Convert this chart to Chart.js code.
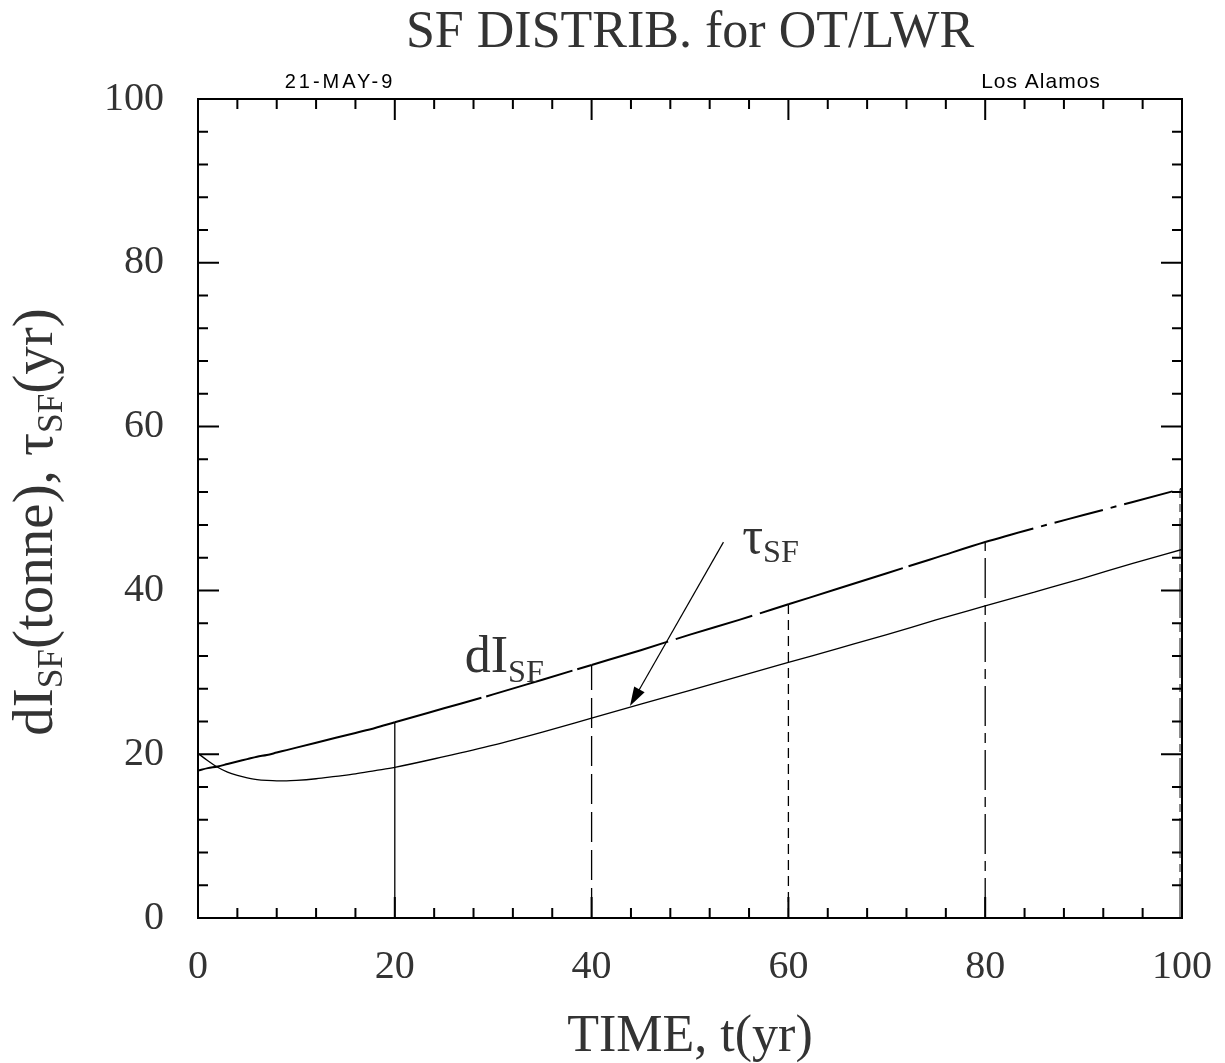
<!DOCTYPE html>
<html>
<head>
<meta charset="utf-8">
<script src="https://cdn.jsdelivr.net/npm/chart.js@4"></script>
<style>
  body { margin: 0; background: #fff; }
  #wrap { width: 1225px; height: 1063px; }
</style>
</head>
<body>
<div id="wrap"><canvas id="myChart" width="1225" height="1063"></canvas></div>
<script>
"use strict";

// values
const years = [0, 1, 2, 3, 4, 5, 6, 7, 8, 9, 10, 12, 14, 16, 18, 20, 25, 30, 35, 40, 45, 50, 55, 60, 65, 70, 75, 80, 85, 90, 95, 100];
const dISF = [18.0, 18.3, 18.5, 18.8, 19.1, 19.4, 19.7, 19.9, 20.2, 20.5, 20.8, 21.4, 22.0, 22.6, 23.2, 23.9, 25.6, 27.3, 29.1, 30.9, 32.7, 34.6, 36.4, 38.3, 40.2, 42.1, 44.0, 45.9, 47.6, 49.2, 50.8, 52.4];
const tauSF = [20.1, 19.2, 18.4, 17.8, 17.4, 17.1, 16.9, 16.8, 16.75, 16.75, 16.8, 17.0, 17.3, 17.6, 18.0, 18.4, 19.7, 21.1, 22.7, 24.4, 26.1, 27.8, 29.5, 31.2, 32.9, 34.6, 36.4, 38.1, 39.8, 41.5, 43.3, 45.0];
const dropYears = [20, 40, 60, 80, 99.8];
const xTickLabels = [0, 20, 40, 60, 80, 100];
const yTickLabels = [0, 20, 40, 60, 80, 100];

const serif = "'Liberation Serif', 'DejaVu Serif', serif";
const textColor = "#333";

// dash style for each 20-year stretch
const stretchDash = [[], [90, 5], [80, 8], [120, 6], [50, 8, 6, 8]];
const dropDash = [[], [30, 8], [10, 6], [40, 7, 10, 7], [40, 6, 8, 6]];
const dropColor = ["#000", "#000", "#000", "#000", "#888"];

function dashFor(x) {
  const i = Math.min(4, Math.floor(x / 20));
  return stretchDash[i];
}

function topOf(x) {
  let best = 0;
  for (let i = 0; i < years.length; i++) {
    if (Math.abs(years[i] - x) < Math.abs(years[best] - x)) best = i;
  }
  return dISF[best];
}

const datasets = [
  {
    label: "dI_SF",
    data: years.map((x, i) => ({ x: x, y: dISF[i] })),
    borderColor: "#000",
    borderWidth: 2,
    pointRadius: 0,
    cubicInterpolationMode: "monotone",
    segment: { borderDash: (ctx) => dashFor(ctx.p0.parsed.x) },
  },
  {
    label: "tau_SF",
    data: years.map((x, i) => ({ x: x, y: tauSF[i] })),
    borderColor: "#000",
    borderWidth: 1.3,
    pointRadius: 0,
    cubicInterpolationMode: "monotone",
  },
];

dropYears.forEach((x, i) => {
  datasets.push({
    label: "drop" + x,
    data: [{ x: x, y: 0 }, { x: x, y: topOf(x) }],
    borderColor: dropColor[i],
    borderWidth: i === 4 ? 2 : 1.3,
    borderDash: dropDash[i],
    pointRadius: 0,
  });
});

// draws text with subscripts, returns width
function richText(ctx, parts, x, y, size) {
  let cx = x;
  for (const p of parts) {
    const fs = p.sub ? size * 0.62 : size;
    ctx.font = fs + "px " + serif;
    ctx.fillText(p.t, cx, p.sub ? y + size * 0.18 : y);
    cx += ctx.measureText(p.t).width;
  }
  return cx - x;
}
function richWidth(ctx, parts, size) {
  let w = 0;
  for (const p of parts) {
    ctx.font = (p.sub ? size * 0.62 : size) + "px " + serif;
    w += ctx.measureText(p.t).width;
  }
  return w;
}

const extras = {
  id: "extras",
  afterDraw(chart) {
    const ctx = chart.ctx;
    const xs = chart.scales.x;
    const ys = chart.scales.y;
    const area = chart.chartArea;
    ctx.save();
    ctx.strokeStyle = "#000";
    ctx.lineWidth = 2;
    ctx.beginPath();
    // inward ticks on all four sides
    for (let v = 0; v <= 100; v += 4) {
      const px = xs.getPixelForValue(v);
      const len = v % 20 === 0 ? 21 : 10;
      ctx.moveTo(px, area.bottom);
      ctx.lineTo(px, area.bottom - len);
      ctx.moveTo(px, area.top);
      ctx.lineTo(px, area.top + len);
      const py = ys.getPixelForValue(v);
      ctx.moveTo(area.left, py);
      ctx.lineTo(area.left + len, py);
      ctx.moveTo(area.right, py);
      ctx.lineTo(area.right - len, py);
    }
    ctx.stroke();

    // header notes
    ctx.fillStyle = "#000";
    ctx.textBaseline = "alphabetic";
    ctx.textAlign = "center";
    ctx.font = "20px 'Liberation Sans', 'DejaVu Sans', sans-serif";
    ctx.letterSpacing = "3px";
    ctx.fillText("21-MAY-9", 340, 88);
    ctx.font = "21px 'Liberation Sans', 'DejaVu Sans', sans-serif";
    ctx.letterSpacing = "1px";
    ctx.fillText("Los Alamos", 1041, 88);
    ctx.letterSpacing = "0px";
    ctx.textAlign = "left";

    // y axis title with subscripts
    ctx.fillStyle = textColor;
    const yParts = [
      { t: "dI" }, { t: "SF", sub: true }, { t: "(tonne), " },
      { t: "τ" }, { t: "SF", sub: true }, { t: "(yr)" },
    ];
    const w = richWidth(ctx, yParts, 57);
    ctx.save();
    ctx.translate(52, 522);
    ctx.rotate(-Math.PI / 2);
    richText(ctx, yParts, -w / 2, 0, 57);
    ctx.restore();

    // curve labels
    richText(ctx, [{ t: "dI" }, { t: "SF", sub: true }], xs.getPixelForValue(27.1), ys.getPixelForValue(30.0), 52);
    richText(ctx, [{ t: "τ" }, { t: "SF", sub: true }], xs.getPixelForValue(55.3), ys.getPixelForValue(44.6), 52);

    // arrow to the tau curve
    const x1 = xs.getPixelForValue(53.4), y1 = ys.getPixelForValue(45.9);
    const x2 = xs.getPixelForValue(43.9), y2 = ys.getPixelForValue(25.9);
    const ang = Math.atan2(y2 - y1, x2 - x1);
    ctx.strokeStyle = "#000";
    ctx.lineWidth = 1.2;
    ctx.beginPath();
    ctx.moveTo(x1, y1);
    ctx.lineTo(x2 - 14 * Math.cos(ang), y2 - 14 * Math.sin(ang));
    ctx.stroke();
    ctx.fillStyle = "#000";
    ctx.beginPath();
    ctx.moveTo(x2, y2);
    ctx.lineTo(x2 - 19 * Math.cos(ang) + 6 * Math.sin(ang), y2 - 19 * Math.sin(ang) - 6 * Math.cos(ang));
    ctx.lineTo(x2 - 19 * Math.cos(ang) - 6 * Math.sin(ang), y2 - 19 * Math.sin(ang) + 6 * Math.cos(ang));
    ctx.closePath();
    ctx.fill();
    ctx.restore();
  },
};

const frame = { display: true, color: "#000", width: 2 };

// keep fixed box sizes; no extra room for overhanging labels
function fixBox(size) {
  return (s) => {
    if (s.isHorizontal()) s.height = size;
    else s.width = size;
    s.paddingLeft = 0;
    s.paddingRight = 0;
    s.paddingTop = 0;
    s.paddingBottom = 0;
  };
}

new Chart("myChart", {
  type: "line",
  data: { datasets: datasets },
  options: {
    responsive: false,
    animation: false,
    events: [],
    layout: { padding: 0 },
    plugins: {
      legend: { display: false },
      tooltip: { enabled: false },
      title: {
        display: true,
        fullSize: false,
        text: "SF DISTRIB. for OT/LWR",
        color: textColor,
        font: { family: serif, size: 52, weight: "normal", lineHeight: 1 },
        padding: { top: 7, bottom: 13 },
      },
    },
    scales: {
      x: {
        type: "linear",
        position: "bottom",
        min: 0,
        max: 100,
        border: frame,
        grid: { display: false },
        ticks: {
          stepSize: 20,
          autoSkip: false,
          maxRotation: 0,
          padding: 17,
          color: textColor,
          font: { family: serif, size: 40 },
          callback: (v) => (xTickLabels.includes(v) ? v : ""),
        },
        title: {
          display: true,
          text: "TIME, t(yr)",
          color: textColor,
          font: { family: serif, size: 52, lineHeight: 1 },
          padding: { top: 0, bottom: 0 },
        },
        afterFit: fixBox(145),
      },
      x2: {
        type: "linear",
        position: "top",
        min: 0,
        max: 100,
        border: frame,
        grid: { display: false },
        ticks: { display: false },
        afterFit: fixBox(27),
      },
      y: {
        type: "linear",
        position: "left",
        min: 0,
        max: 100,
        border: frame,
        grid: { display: false },
        ticks: {
          stepSize: 20,
          autoSkip: false,
          padding: 26,
          color: textColor,
          font: { family: serif, size: 40 },
          callback: (v) => (yTickLabels.includes(v) ? v : ""),
        },
        afterFit: fixBox(198),
      },
      y2: {
        type: "linear",
        position: "right",
        min: 0,
        max: 100,
        border: frame,
        grid: { display: false },
        ticks: { display: false },
        afterFit: fixBox(43),
      },
    },
  },
  plugins: [extras],
});
</script>
</body>
</html>
